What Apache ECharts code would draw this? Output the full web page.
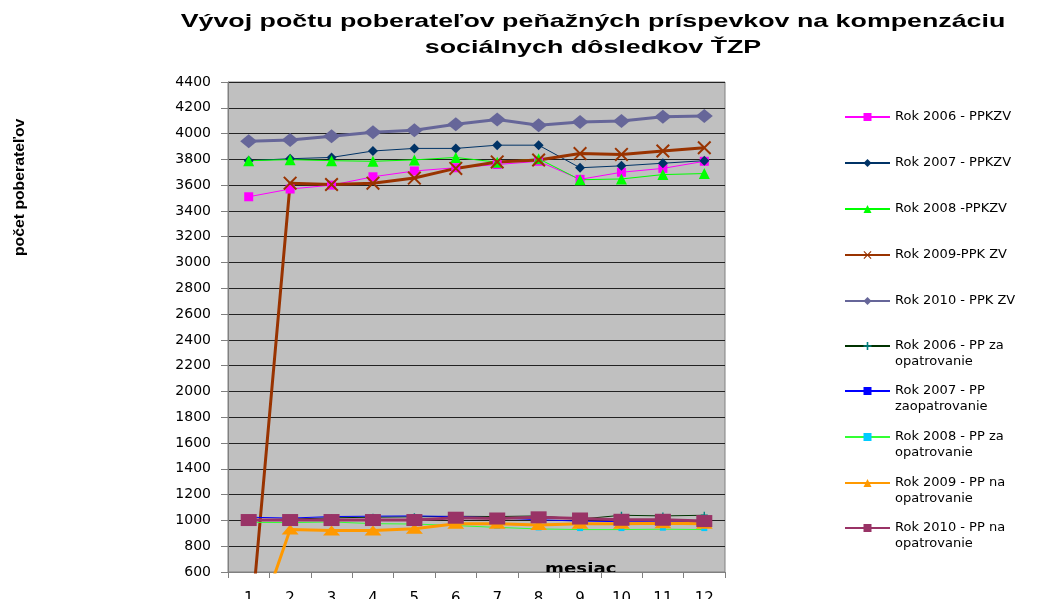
<!DOCTYPE html>
<html lang="sk">
<head>
<meta charset="UTF-8">
<title>Vývoj počtu poberateľov</title>
<script src="https://cdn.jsdelivr.net/npm/echarts@6/dist/echarts.min.js"></script>
<style>
  html, body { margin: 0; padding: 0; background: #fff; }
  #main { width: 1041px; height: 599px; }
</style>
</head>
<body>
<div id="main"></div>
<script>
// mesiace
var months = ['1', '2', '3', '4', '5', '6', '7', '8', '9', '10', '11', '12'];

// príspevok na kompenzáciu zvýšených výdavkov (PPKZV)
var rok2006PPKZV = [3510, 3570, 3600, 3665, 3710, 3735, 3760, 3785, 3645, 3700, 3730, 3785];
var rok2007PPKZV = [3790, 3805, 3815, 3865, 3885, 3885, 3910, 3910, 3735, 3750, 3770, 3790];
var rok2008PPKZV = [3790, 3798, 3790, 3785, 3796, 3815, 3778, 3805, 3642, 3648, 3682, 3690];
var rok2009PPKZV = [0, 3615, 3605, 3615, 3655, 3730, 3780, 3795, 3845, 3838, 3865, 3890];
var rok2010PPKZV = [3940, 3950, 3980, 4010, 4025, 4072, 4110, 4065, 4090, 4098, 4130, 4137];

// peňažný príspevok za/na opatrovanie (PP)
var rok2006PP = [1005, 1010, 1020, 1025, 1028, 1032, 1030, 1035, 1010, 1040, 1035, 1040];
var rok2007PP = [1025, 1018, 1030, 1033, 1035, 1030, 1020, 1005, 995, 990, 990, 990];
var rok2008PP = [985, 983, 988, 975, 972, 960, 946, 934, 929, 929, 932, 929];
var rok2009PP = [0, 930, 922, 922, 935, 975, 975, 965, 975, 975, 978, 975];
var rok2010PP = [1003, 1003, 1003, 1003, 1003, 1021, 1015, 1024, 1015, 1005, 1005, 995];

var seriesNames = [
  'Rok 2006 - PPKZV',
  'Rok 2007 - PPKZV',
  'Rok 2008 -PPKZV',
  'Rok 2009-PPK ZV',
  'Rok 2010 - PPK ZV',
  'Rok 2006 - PP za\nopatrovanie',
  'Rok 2007 - PP\nzaopatrovanie',
  'Rok 2008 - PP za\nopatrovanie',
  'Rok 2009 - PP na\nopatrovanie',
  'Rok 2010 - PP na\nopatrovanie'
];

var X_SYMBOL = 'path://M0,1L1,0L5,4L9,0L10,1L6,5L10,9L9,10L5,6L1,10L0,9L4,5Z';
var PLUS_SYMBOL = 'path://M4,0H6V4H10V6H6V10H4V6H0V4H4Z';

var chart = echarts.init(document.getElementById('main'));

function line(idx, data, lineColor, width, symbol, size, markColor) {
  return {
    name: seriesNames[idx],
    type: 'line',
    data: data,
    symbol: symbol,
    symbolSize: size,
    showAllSymbol: true,
    lineStyle: { color: lineColor, width: width },
    itemStyle: { color: markColor || lineColor },
    emphasis: { disabled: true }
  };
}

// legenda - každá položka zvlášť, aby ikona sedela s prvým riadkom
var legendY = [117, 163, 209, 255, 301, 346, 391, 437, 483, 528];
var legends = seriesNames.map(function (n, i) {
  var twoLine = n.indexOf('\n') >= 0;
  return {
    data: [n],
    left: 844,
    top: twoLine ? legendY[i] - 24 : legendY[i] - 8,
    padding: 0,
    itemWidth: 45,
    itemHeight: 10,
    itemGap: 5,
    selectedMode: false,
    // prázdny riadok navrch, aby bol prvý riadok textu v strede pri ikone
    formatter: twoLine ? function (name) { return ' \n' + name; } : null,
    textStyle: {
      fontFamily: 'DejaVu Sans',
      fontSize: 13,
      color: '#000',
      lineHeight: 16
    }
  };
});

var option = {
  animation: false,
  backgroundColor: '#fff',
  legend: legends,
  grid: {
    left: 228,
    right: 316,
    top: 82,
    bottom: 27,
    containLabel: false,
    outerBoundsMode: 'none',
    show: true,
    backgroundColor: '#C0C0C0',
    borderColor: '#808080',
    borderWidth: 1
  },
  xAxis: {
    type: 'category',
    data: months,
    boundaryGap: true,
    axisLine: { lineStyle: { color: '#808080' } },
    axisTick: { show: true, length: 6, lineStyle: { color: '#808080' } },
    axisLabel: {
      margin: 20,
      fontFamily: 'DejaVu Sans',
      fontSize: 15,
      color: '#000'
    }
  },
  yAxis: {
    type: 'value',
    min: 600,
    max: 4400,
    interval: 200,
    axisLine: { show: true, lineStyle: { color: '#808080' } },
    axisTick: { show: true, length: 7, lineStyle: { color: '#808080' } },
    axisLabel: {
      margin: 17,
      fontFamily: 'DejaVu Sans',
      fontSize: 14,
      color: '#000',
      formatter: function (v) { return String(v); }
    },
    splitLine: { lineStyle: { color: '#222', width: 1 } }
  },
  graphic: [
    {
      // nadpis (roztiahnutý do šírky ako v origináli)
      type: 'text',
      x: 593,
      y: 9,
      scaleX: 1.41,
      style: {
        text: 'Vývoj počtu poberateľov peňažných príspevkov na kompenzáciu\nsociálnych dôsledkov ŤZP',
        font: 'bold 19px "Liberation Sans"',
        lineHeight: 26,
        align: 'center',
        verticalAlign: 'top',
        fill: '#000'
      }
    },
    {
      type: 'text',
      x: 12,
      y: 256,
      rotation: Math.PI / 2,
      scaleX: 1.05,
      style: {
        text: 'počet poberateľov',
        font: 'bold 15px "Liberation Sans"',
        align: 'left',
        verticalAlign: 'top',
        fill: '#000'
      }
    },
    {
      type: 'text',
      x: 545,
      y: 562,
      scaleX: 1.3,
      style: {
        text: 'mesiac',
        font: 'bold 14px "DejaVu Sans"',
        align: 'left',
        verticalAlign: 'top',
        fill: '#000'
      }
    }
  ],
  series: [
    line(0, rok2006PPKZV, '#FF00FF', 1, 'rect', 9),
    line(1, rok2007PPKZV, '#003366', 1, 'diamond', 10),
    line(2, rok2008PPKZV, '#00FF00', 1, 'triangle', 11),
    line(3, rok2009PPKZV, '#993300', 3, X_SYMBOL, 14),
    line(4, rok2010PPKZV, '#666699', 3, 'diamond', [17, 14]),
    line(5, rok2006PP, '#003300', 1, PLUS_SYMBOL, 7, '#008080'),
    line(6, rok2007PP, '#0000FF', 1, 'rect', [6, 3]),
    line(7, rok2008PP, '#33FF33', 1, 'rect', [6, 3], '#00CCFF'),
    line(8, rok2009PP, '#FF9900', 3, 'triangle', [17, 10]),
    line(9, rok2010PP, '#993366', 3, 'rect', [16, 12])
  ]
};

chart.setOption(option);
</script>
</body>
</html>
